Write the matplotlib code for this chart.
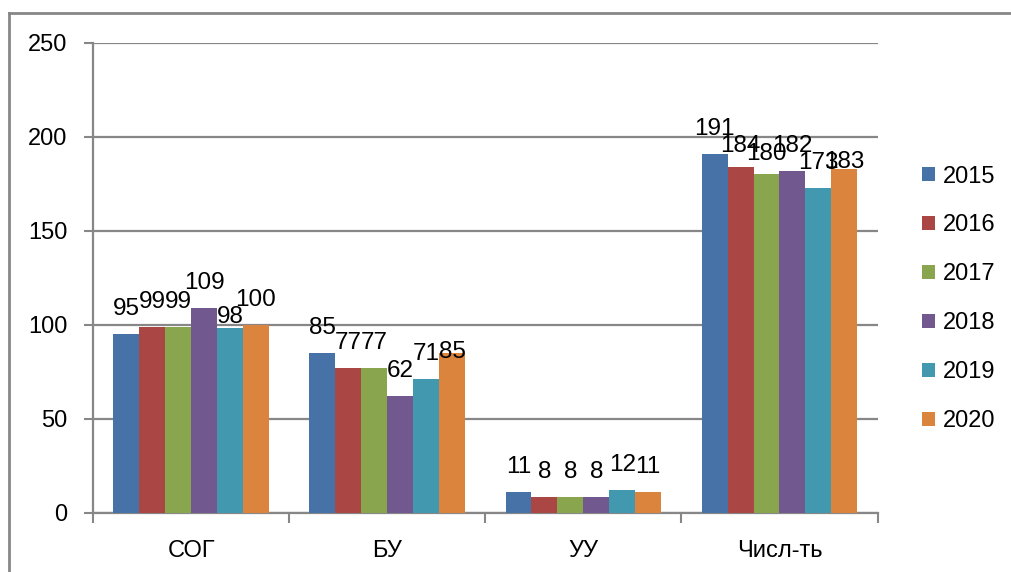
import matplotlib
matplotlib.use("Agg")
import matplotlib.pyplot as plt
import numpy as np
from matplotlib.lines import Line2D

categories = ["СОГ", "БУ", "УУ", "Числ-ть"]
years = ["2015", "2016", "2017", "2018", "2019", "2020"]
values = {
    "2015": [95, 85, 11, 191],
    "2016": [99, 77, 8, 184],
    "2017": [99, 77, 8, 180],
    "2018": [109, 62, 8, 182],
    "2019": [98, 71, 12, 173],
    "2020": [100, 85, 11, 183],
}
colors = ["#4672A8", "#AA4643", "#89A54E", "#71588F", "#4198AF", "#DB843D"]
yticks = [0, 50, 100, 150, 200, 250]

# label gap (px above bar top) — default, with a few labels placed lower as in reference
default_gap = 19
gap_override = {("2019", 0): 5, ("2020", 1): -5, ("2016", 3): 15,
                ("2017", 3): 14, ("2020", 3): 1}

plt.rcParams['font.family'] = ['Liberation Sans', 'DejaVu Sans']
fig = plt.figure(figsize=(10.11, 5.72), dpi=100)
ax = fig.add_axes([0.092, 0.104, 0.776, 0.821])

x = np.arange(len(categories))
bw = 0.1323
n = len(years)
for i, (yr, c) in enumerate(zip(years, colors)):
    pos = x + (i - (n - 1) / 2) * bw
    ax.bar(pos, values[yr], width=bw, color=c, label=yr, zorder=3)
    for j, (p, v) in enumerate(zip(pos, values[yr])):
        gap = gap_override.get((yr, j), default_gap)
        ax.annotate(str(v), (p, v), xytext=(0, gap * 0.72), textcoords="offset points",
                    ha="center", va="baseline", fontsize=17.5, color="#000000", zorder=5)

ax.set_xlim(-0.5, len(categories) - 0.5)
ax.set_ylim(0, 250)
ax.set_yticks(yticks)
ax.set_yticklabels([str(t) for t in yticks], fontsize=17)
ax.yaxis.grid(True, color="#878787", linewidth=1.6, zorder=0)
ax.set_axisbelow(True)

ax.set_xticks(x)
ax.set_xticklabels(categories, fontsize=17)
ax.tick_params(axis="x", length=0, pad=19.5)
ax.set_xticks(np.arange(-0.5, len(categories), 1), minor=True)
ax.tick_params(axis="x", which="minor", length=7, width=1.5, color="#878787")
ax.tick_params(axis="y", length=6.5, width=1.5, color="#878787", pad=12)

for s in ["top", "right"]:
    ax.spines[s].set_visible(False)
for s in ["left", "bottom"]:
    ax.spines[s].set_color("#878787")
    ax.spines[s].set_linewidth(1.6)

leg = ax.legend(loc="center left", bbox_to_anchor=(1.029, 0.455), frameon=False,
                fontsize=17, handlelength=0.55, handleheight=0.55, handletextpad=0.36,
                labelspacing=1.14)

# outer frame
fig.add_artist(Line2D([0.009, 1.0], [1 - 13 / 572, 1 - 13 / 572], color="#878787", linewidth=2))
fig.add_artist(Line2D([0.009, 0.009], [0, 1 - 13 / 572], color="#878787", linewidth=2))

fig.savefig("out.png", dpi=100)
